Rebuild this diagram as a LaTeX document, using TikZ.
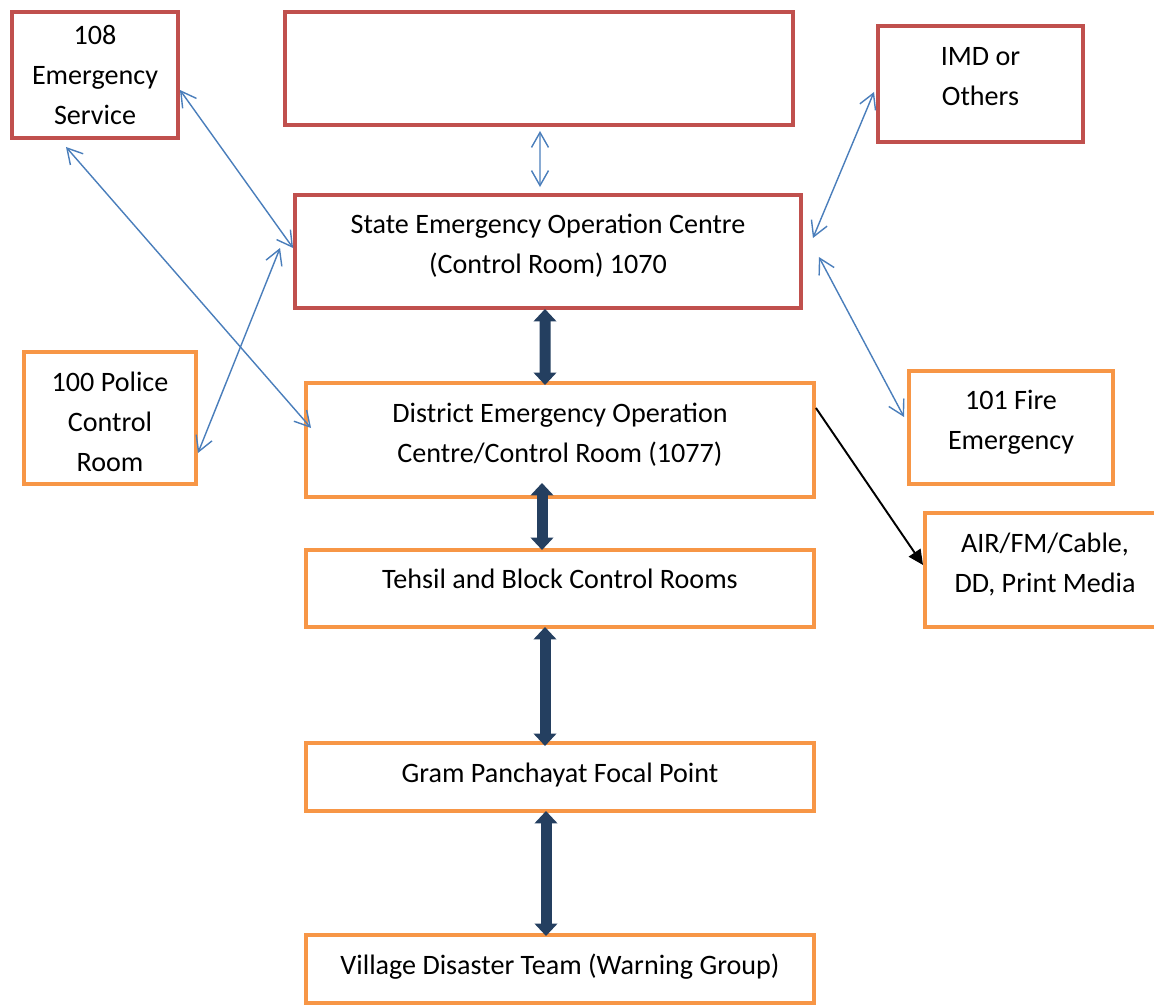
\documentclass[tikz,border=0pt]{standalone}
\usepackage{fontspec}
\setmainfont{Carlito}
\usepackage{tikz}
\usetikzlibrary{arrows.meta}
\definecolor{boxRed}{HTML}{C0504D}
\definecolor{boxOrange}{HTML}{F79646}
\definecolor{linkBlue}{HTML}{4A7EBB}
\definecolor{pipeNavy}{HTML}{243F60}

\begin{document}
\begin{tikzpicture}[x=0.02cm, y=-0.02cm,
  font=\fontsize{16}{22.8}\selectfont,
  box/.style={draw, line width=0.08cm, inner sep=0pt},
  redbox/.style={box, draw=boxRed},
  orangebox/.style={box, draw=boxOrange},
  txt/.style={align=center, inner sep=0pt},
  link/.style={draw=linkBlue, line width=0.8pt, {Straight Barb[length=0.3cm, width=0.34cm]}-{Straight Barb[length=0.3cm, width=0.34cm]}},
  bigarrow/.style={draw=pipeNavy, line width=0.22cm, {Triangle[length=0.25cm, width=0.45cm]}-{Triangle[length=0.25cm, width=0.45cm]}},
  feed/.style={draw=black, line width=1.1pt, -{Triangle[length=0.3cm, width=0.28cm]}}]
  \useasboundingbox (0,0) rectangle (1154,1007);

  % top row
  \node[redbox, minimum width=3.32cm, minimum height=2.52cm] (s108) at (95,75) {};
  \node[txt] (s108t) at (s108) {108\\Emergency\\Service};
  \node[redbox, minimum width=10.16cm, minimum height=2.26cm] (top) at (539,68.5) {};
  \node[redbox, minimum width=4.1cm, minimum height=2.32cm] (imd) at (980.5,84) {};
  \node[txt] (imdt) at ([yshift=0.14cm]imd) {IMD or\\Others};

  % state level
  \node[redbox, minimum width=10.12cm, minimum height=2.26cm] (seoc) at (548,251.5) {};
  \node[txt] (seoct) at ([yshift=0.12cm]seoc) {State Emergency Operation Centre\\(Control Room) 1070};

  % district level
  \node[orangebox, minimum width=3.44cm, minimum height=2.64cm] (police) at (110,418) {};
  \node[txt] (policet) at ([yshift=-0.08cm]police) {100 Police\\Control\\Room};
  \node[orangebox, minimum width=10.16cm, minimum height=2.28cm] (deoc) at (560,440) {};
  \node[txt] (deoct) at ([yshift=0.1cm]deoc) {District Emergency Operation\\Centre/Control Room (1077)};
  \node[orangebox, minimum width=4.08cm, minimum height=2.26cm] (fire) at (1011,427.5) {};
  \node[txt] (firet) at ([yshift=0.1cm]fire) {101 Fire\\Emergency};
  \node[orangebox, minimum width=4.8cm, minimum height=2.28cm] (air) at (1045,570) {};
  \node[txt] (airt) at ([yshift=0.1cm]air) {AIR/FM/Cable,\\DD, Print Media};

  % lower levels
  \node[orangebox, minimum width=10.16cm, minimum height=1.54cm] (tehsil) at (560,588.5) {};
  \node[txt] (tehsilt) at ([yshift=0.2cm]tehsil) {Tehsil and Block Control Rooms};
  \node[orangebox, minimum width=10.16cm, minimum height=1.36cm] (gram) at (560,777) {};
  \node[txt] (gramt) at ([yshift=0.04cm]gram) {Gram Panchayat Focal Point};
  \node[orangebox, minimum width=10.16cm, minimum height=1.36cm] (village) at (560,969) {};
  \node[txt] (villaget) at ([yshift=0.04cm]village) {Village Disaster Team (Warning Group)};

  % thin links
  \draw[link] ([yshift=-0.3cm]s108.east) -- ([yshift=0.07cm]seoc.west);
  \draw[link] ([xshift=-0.58cm, yshift=-0.14cm]s108.south) -- ([xshift=0.14cm, yshift=0.24cm]deoc.west);
  \draw[link] ([yshift=-0.7cm]police.east) -- ([xshift=-0.26cm, yshift=0.07cm]seoc.west);
  \draw[link] ([xshift=0.02cm, yshift=-0.08cm]top.south) -- ([xshift=-0.16cm, yshift=0.12cm]seoc.north);
  \draw[link] ([xshift=-0.04cm, yshift=-0.16cm]imd.west) -- ([xshift=0.2cm, yshift=0.27cm]seoc.east);
  \draw[link] ([xshift=0.32cm, yshift=-0.11cm]seoc.east) -- ([xshift=-0.06cm, yshift=0.21cm]fire.west);
  \draw[feed] ([yshift=0.64cm]deoc.east) -- ([yshift=0.1cm]air.west);

  % chain of command
  \draw[bigarrow] ([xshift=-0.06cm, yshift=0.02cm]seoc.south) -- ([xshift=-0.3cm, yshift=-0.08cm]deoc.north);
  \draw[bigarrow] ([xshift=-0.36cm, yshift=0.32cm]deoc.south) -- ([xshift=-0.36cm, yshift=-0.04cm]tehsil.north);
  \draw[bigarrow] ([xshift=-0.3cm, yshift=0.04cm]tehsil.south) -- ([xshift=-0.3cm, yshift=-0.1cm]gram.north);
  \draw[bigarrow] ([xshift=-0.28cm, yshift=0.04cm]gram.south) -- ([xshift=-0.28cm, yshift=-0.06cm]village.north);
\end{tikzpicture}
\end{document}
